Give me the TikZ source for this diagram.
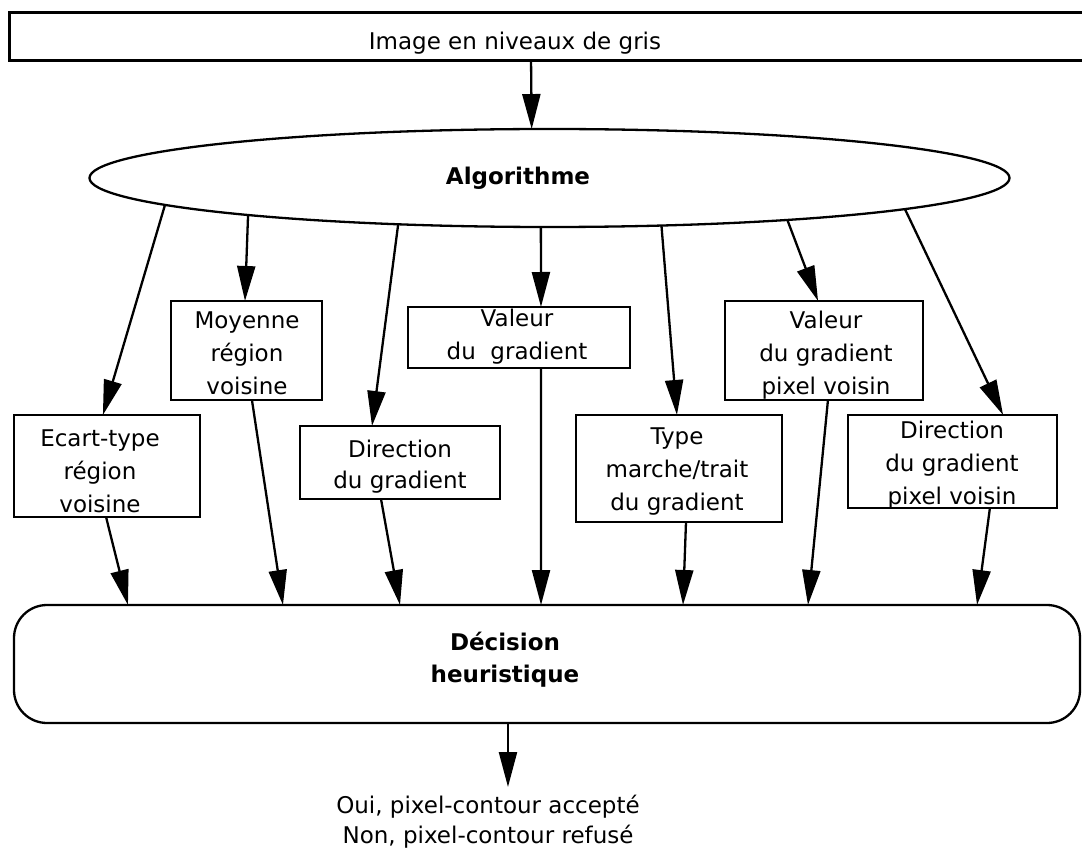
\documentclass[tikz,border=0pt]{standalone}
\usepackage{fontspec}
\setmainfont{DejaVu Sans}
\usetikzlibrary{arrows.meta,calc,shapes.geometric}
\begin{document}
\begin{tikzpicture}[x=1pt,y=-1pt,
  every node/.style={inner sep=0pt, outer sep=0pt},
  box/.style={draw, line width=2.3pt, rectangle, anchor=north west},
  txt/.style={align=center, font=\fontsize{23}{33}\selectfont},
  txtb/.style={align=center, font=\fontsize{23}{32}\selectfont\bfseries},
  arr/.style={line width=2.3pt, -{Triangle[length=35pt,width=18pt]}},
  ln/.style={line width=2.3pt}
]
\useasboundingbox (0,0) rectangle (1082,850);

% boxes
\node[box, line width=3pt, minimum width=1091pt, minimum height=48pt] (top) at (9,13) {};
\node[draw, line width=2.3pt, ellipse, minimum width=920pt, minimum height=98pt] (algo) at (549.5,178) {};
\node[box, minimum width=186pt, minimum height=102pt] (ecart) at (14,415) {};
\node[box, minimum width=151pt, minimum height=99pt] (moy) at (171,301) {};
\node[box, minimum width=200pt, minimum height=73pt] (dir) at (300,426) {};
\node[box, minimum width=222pt, minimum height=61pt] (val) at (408,307) {};
\node[box, minimum width=206pt, minimum height=107pt] (type) at (576,415) {};
\node[box, minimum width=198pt, minimum height=99pt] (valpv) at (725,301) {};
\node[box, minimum width=209pt, minimum height=93pt] (dirpv) at (848,415) {};
\node[box, rounded corners=33pt, minimum width=1066pt, minimum height=118pt] (dec) at (14,605) {};

% texts
\node[txt] (topT) at (515,43.4) {\strut Image en niveaux de gris\strut};
\node[txtb] (algoT) at (518,178.4) {\strut Algorithme\strut};
\node[txt] (ecartT) at (100,473) {\strut Ecart-type\\région\\voisine\strut};
\node[txt] (moyT) at (247,355) {\strut Moyenne\\région\\voisine\strut};
\node[txt, font=\fontsize{23}{31}\selectfont] (dirT) at (400,466.3) {\strut Direction\\du gradient\strut};
\node[txt] (valT) at (517,336.4) {\strut Valeur\\du\ \ gradient\strut};
\node[txt] (typeT) at (677,471) {\strut Type\\marche/trait\\du gradient\strut};
\node[txt] (valpvT) at (826,355) {\strut Valeur\\du gradient\\pixel voisin\strut};
\node[txt] (dirpvT) at (952,464.4) {\strut Direction\\du gradient\\pixel voisin\strut};
\node[txtb] (decT) at (505,659.6) {\strut Décision\\heuristique\strut};
\node[txt, font=\fontsize{23}{30}\selectfont, inner ysep=5pt] (outT) at (488,822) {\strut Oui, pixel-contour accepté\\Non, pixel-contour refusé\strut};

% top arrow
\draw[arr] ($(top.south west)!0.4785!(top.south east)$) -- (algo.110.7);

% ellipse to boxes
\draw[arr] (algo.184.4) -- ($(ecart.north west)!0.478!(ecart.north east)$);
\draw[arr] (algo.187.9) -- ($(moy.north west)!0.49!(moy.north east)$);
\draw[arr] (algo.197.6) -- ($(dir.north west)!0.36!(dir.north east)$);
\draw[arr] (algo.260) -- ($(val.north west)!0.599!(val.north east)$);
\draw[arr] (algo.337.7) -- ($(type.north west)!0.49!(type.north east)$);
\draw[arr] (algo.350.85) -- ($(valpv.north west)!0.47!(valpv.north east)$);
\draw[arr] (algo.355.6) -- ($(dirpv.north west)!0.742!(dirpv.north east)$);

% boxes to decision
\draw[arr] ($(ecart.south west)!0.495!(ecart.south east)$) -- ($(dec.north west)!0.1069!(dec.north east)$);
\draw[arr] ($(moy.south west)!0.536!(moy.south east)$) -- ($(dec.north west)!0.2523!(dec.north east)$);
\draw[arr] ($(dir.south west)!0.405!(dir.south east)$) -- ($(dec.north west)!0.3621!(dec.north east)$);
\draw[arr] ($(val.south west)!0.599!(val.south east)$) -- ($(dec.north west)!0.4944!(dec.north east)$);
\draw[arr] ($(type.south west)!0.534!(type.south east)$) -- ($(dec.north west)!0.6276!(dec.north east)$);
\draw[arr] ($(valpv.south west)!0.52!(valpv.south east)$) -- ($(dec.north west)!0.7448!(dec.north east)$);
\draw[arr] ($(dirpv.south west)!0.679!(dirpv.south east)$) -- ($(dec.north west)!0.9034!(dec.north east)$);

% output
\coordinate (outS) at ($(dec.south west)!0.4634!(dec.south east)$);
\draw[arr] (outS) -- (outS |- outT.north);
\end{tikzpicture}
\end{document}
